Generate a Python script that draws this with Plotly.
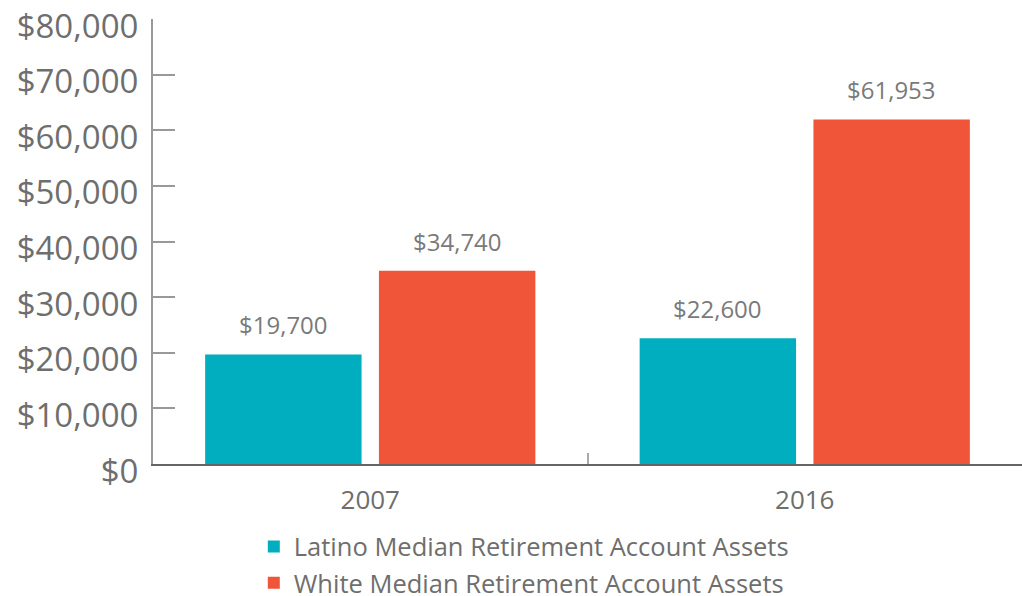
import plotly.graph_objects as go

years = ["2007", "2016"]
latino = [19700, 22600]
white = [34740, 61953]
series_names = ["Latino Median Retirement Account Assets", "White Median Retirement Account Assets"]
tick_vals = [0, 10000, 20000, 30000, 40000, 50000, 60000, 70000, 80000]
tick_text = ["$0", "$10,000", "$20,000", "$30,000", "$40,000", "$50,000", "$60,000", "$70,000", "$80,000"]

TEAL = "#00AEC0"
ORANGE = "#F0553A"
FONT = "Open Sans"

fig = go.Figure()
fig.add_trace(go.Bar(x=years, y=latino, name=series_names[0], marker_color=TEAL, marker_line_width=0))
fig.add_trace(go.Bar(x=years, y=white, name=series_names[1], marker_color=ORANGE, marker_line_width=0))

annotations = []
for i, (a, b) in enumerate(zip(latino, white)):
    for off, v in ((-0.2, a), (0.2, b)):
        annotations.append(dict(
            x=i + off, y=v, xref="x", yref="y", text=f"${v:,}",
            showarrow=False, yanchor="bottom", yshift=11,
            font=dict(family=FONT, size=24, color="#7a7a7a")))

fig.update_layout(
    width=1022, height=596,
    margin=dict(l=153, r=0, t=19, b=132, autoexpand=False),
    paper_bgcolor="white", plot_bgcolor="white",
    barmode="group", bargap=0.2, bargroupgap=0.1,
    font=dict(family=FONT, color="#6e6e6e"),
    showlegend=True,
    legend=dict(orientation="v", x=0.116, xanchor="left", y=-0.1335, yanchor="top",
                font=dict(family=FONT, size=25.5, color="#6e6e6e"),
                tracegroupgap=0, bgcolor="rgba(0,0,0,0)"),
    annotations=annotations,
)
fig.update_xaxes(
    automargin=False,
    showline=True, linecolor="#666666", linewidth=2,
    ticks="inside", tickson="boundaries", ticklen=11, tickcolor="#aaaaaa", tickwidth=2,
    tickfont=dict(family=FONT, size=26, color="#6e6e6e"),
    ticklabelstandoff=12,
    showgrid=False, zeroline=False,
)
fig.update_yaxes(
    automargin=False,
    range=[0, 80000], tickvals=tick_vals, ticktext=tick_text,
    showline=True, linecolor="#999999", linewidth=2,
    ticks="inside", ticklen=22, tickcolor="#999999", tickwidth=2,
    tickfont=dict(family=FONT, size=33, color="#6e6e6e"),
    ticklabelstandoff=6, ticklabelshift=7, ticklabeloverflow="allow",
    showgrid=False, zeroline=False,
)

fig.write_html("out.html", config={"displayModeBar": False},
               post_script="document.body.style.margin='0';document.body.style.overflow='hidden';")
